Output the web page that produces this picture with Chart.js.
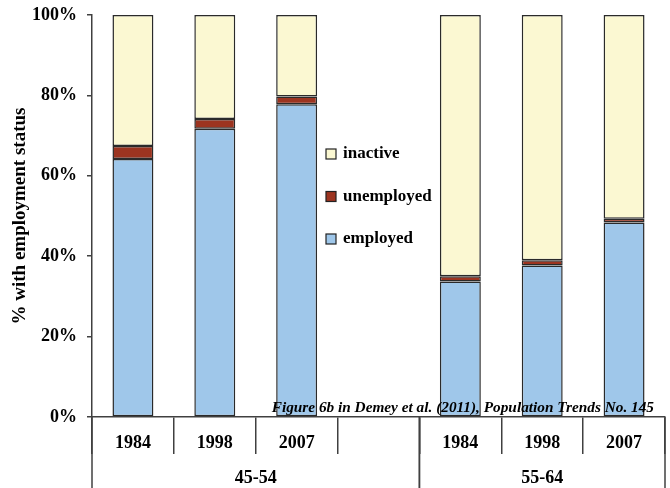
<!DOCTYPE html>
<html>
<head>
<meta charset="utf-8">
<script src="https://cdn.jsdelivr.net/npm/chart.js@4.4.1/dist/chart.umd.min.js"></script>
<style>
  html, body { margin: 0; padding: 0; background: #fff; }
  #wrap { width: 670px; height: 488px; }
</style>
</head>
<body>
<div id="wrap"><canvas id="chart"></canvas></div>
<script>
const years = ['1984', '1998', '2007', '', '1984', '1998', '2007'];
const groups = ['45-54', '55-64'];
const groupSpans = [4, 3];

const employed   = [64.2, 71.7, 77.8, null, 33.7, 37.7, 48.4];
const unemployed = [3.2, 2.4, 1.9, null, 1.3, 1.3, 0.9];
const inactive   = [32.6, 25.9, 20.3, null, 65.0, 61.0, 50.7];

const yTicks = [0, 20, 40, 60, 80, 100];
const note = 'Figure 6b in Demey et al. (2011), Population Trends No. 145';

const SERIF = "'Liberation Serif', 'Times New Roman', serif";
const LINE = '#404040';

const extras = {
    id: 'extras',
    afterDraw(chart) {
        const ctx = chart.ctx;
        const x = chart.scales.x;
        const area = chart.chartArea;
        const H = chart.height;

        // group separators + group labels
        const edge = i => {
            if (i <= 0) return area.left;
            if (i >= years.length) return area.right;
            return (x.getPixelForValue(i - 1) + x.getPixelForValue(i)) / 2;
        };
        ctx.save();
        ctx.strokeStyle = LINE;
        ctx.lineWidth = 1.5;
        ctx.fillStyle = '#000';
        ctx.font = 'bold 18px ' + SERIF;
        ctx.textAlign = 'center';
        ctx.textBaseline = 'middle';
        let start = 0;
        groups.forEach((g, k) => {
            const a = edge(start), b = edge(start + groupSpans[k]);
            [a, b].forEach(px => {
                ctx.beginPath();
                ctx.moveTo(px, area.bottom);
                ctx.lineTo(px, H);
                ctx.stroke();
            });
            ctx.fillText(g, (a + b) / 2, 478);
            start += groupSpans[k];
        });

        // source note
        ctx.font = 'italic bold 15.3px ' + SERIF;
        ctx.textAlign = 'right';
        ctx.textBaseline = 'alphabetic';
        ctx.fillText(note, area.right - 11, area.bottom - 5);

        // legend (reversed order)
        ctx.font = 'bold 17px ' + SERIF;
        ctx.textAlign = 'left';
        ctx.textBaseline = 'middle';
        const ds = chart.data.datasets.slice().reverse();
        ds.forEach((d, i) => {
            const cy = 154 + i * 42.5;
            ctx.fillStyle = d.backgroundColor;
            ctx.fillRect(326, cy - 5, 10, 10);
            ctx.lineWidth = 1.2;
            ctx.strokeStyle = '#222';
            ctx.strokeRect(326, cy - 5, 10, 10);
            ctx.fillStyle = '#000';
            ctx.fillText(d.label, 343, cy);
        });
        ctx.restore();
    }
};

new Chart(document.getElementById('chart'), {
    type: 'bar',
    data: {
        labels: years,
        datasets: [
            { label: 'employed',   data: employed,   backgroundColor: '#9FC7EA' },
            { label: 'unemployed', data: unemployed, backgroundColor: '#9C3420' },
            { label: 'inactive',   data: inactive,   backgroundColor: '#FBF8D2' }
        ].map(d => Object.assign(d, {
            borderColor: '#2a2a2a',
            borderWidth: 1.5,
            borderSkipped: false,
            barPercentage: 0.5,
            categoryPercentage: 1.0
        }))
    },
    options: {
        responsive: true,
        maintainAspectRatio: false,
        animation: false,
        layout: { padding: { left: 0, right: 5, top: 15, bottom: 0 } },
        plugins: {
            legend: { display: false },
            tooltip: { enabled: false }
        },
        scales: {
            x: {
                stacked: true,
                offset: true,
                afterFit: s => { s.height = 71; s.paddingLeft = 0; s.paddingRight = 0; },
                grid: {
                    offset: true,
                    drawOnChartArea: false,
                    tickLength: 37,
                    color: LINE,
                    lineWidth: 1.5
                },
                border: { display: true, color: LINE, width: 1.5 },
                ticks: {
                    padding: -21,
                    color: '#000',
                    font: { family: SERIF, size: 18, weight: 'bold' },
                    maxRotation: 0,
                    autoSkip: false
                }
            },
            y: {
                stacked: true,
                min: 0,
                max: 100,
                afterFit: s => { s.width = 92; s.paddingTop = 0; s.paddingBottom = 0; },
                afterBuildTicks: s => { s.ticks = yTicks.map(v => ({ value: v })); },
                grid: {
                    drawOnChartArea: false,
                    tickLength: 5,
                    color: LINE,
                    lineWidth: 1.5
                },
                border: { display: true, color: LINE, width: 1.5 },
                ticks: {
                    padding: 10,
                    color: '#000',
                    font: { family: SERIF, size: 18, weight: 'bold' },
                    callback: v => v + '%'
                },
                title: {
                    display: true,
                    text: '% with employment status',
                    color: '#000',
                    font: { family: SERIF, size: 19, weight: 'bold' },
                    padding: { top: 9, bottom: 0 }
                }
            }
        }
    },
    plugins: [extras]
});
</script>
</body>
</html>
